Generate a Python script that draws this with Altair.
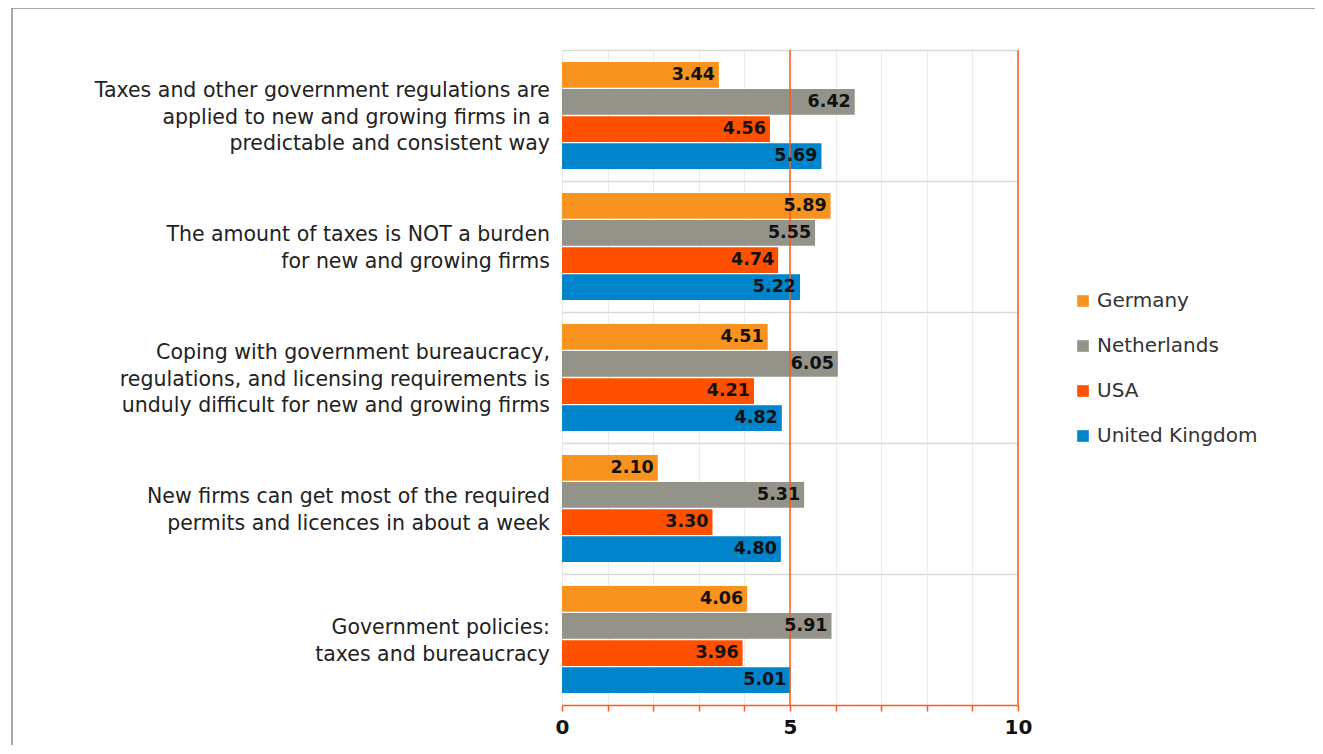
import altair as alt
import pandas as pd

categories = [
    "Taxes and other government regulations are|applied to new and growing firms in a|predictable and consistent way",
    "The amount of taxes is NOT a burden|for new and growing firms",
    "Coping with government bureaucracy,|regulations, and licensing requirements is|unduly difficult for new and growing firms",
    "New firms can get most of the required|permits and licences in about a week",
    "Government policies:|taxes and bureaucracy",
]
series = ["Germany", "Netherlands", "USA", "United Kingdom"]
germany = [3.44, 5.89, 4.51, 2.10, 4.06]
netherlands = [6.42, 5.55, 6.05, 5.31, 5.91]
usa = [4.56, 4.74, 4.21, 3.30, 3.96]
uk = [5.69, 5.22, 4.82, 4.80, 5.01]
colors = ["#F7931E", "#939389", "#FF5000", "#0084CB"]
x_ticks = [0, 1, 2, 3, 4, 5, 6, 7, 8, 9, 10]
highlight_lines = [5, 10]

FONT = "DejaVu Sans"
ORANGE = "#FF5A1A"
LINE_H = 26.5

rows = []
for s, vals in zip(series, [germany, netherlands, usa, uk]):
    for c, v in zip(categories, vals):
        rows.append({"category": c, "series": s, "value": v})
df = pd.DataFrame(rows)

# one row per label line, with its vertical shift inside the band
label_rows = []
for c in categories:
    lines = c.split("|")
    n = len(lines)
    for k, line in enumerate(lines):
        label_rows.append({"category": c, "line": line, "shift": (k - (n - 1) / 2) * LINE_H})
ldf = pd.DataFrame(label_rows)

x_enc = alt.X(
    "value:Q",
    scale=alt.Scale(domain=[0, 10], nice=False),
    axis=alt.Axis(
        title=None,
        values=x_ticks,
        labelExpr="(datum.value % 5 == 0) ? datum.label : ''",
        labelFlush=False,
        grid=True,
        gridColor="#EBEBEB",
        domainColor=ORANGE,
        domainWidth=1.5,
        tickColor=ORANGE,
        tickWidth=1.5,
        tickSize=6,
        labelFont=FONT,
        labelFontSize=20,
        labelFontWeight="bold",
        labelColor="#111111",
        labelPadding=6,
    ),
)
y_enc = alt.Y(
    "category:N",
    sort=categories,
    scale=alt.Scale(paddingInner=0, paddingOuter=0),
    axis=alt.Axis(
        title=None,
        bandPosition=0,
        grid=True,
        gridColor="#D9D9D9",
        gridWidth=1.5,
        ticks=False,
        domain=False,
        labels=False,
    ),
)
yoff_enc = alt.YOffset(
    "series:N", sort=series, scale=alt.Scale(paddingOuter=0.44, paddingInner=0.05)
)
color_enc = alt.Color(
    "series:N",
    sort=series,
    scale=alt.Scale(domain=series, range=colors),
    legend=alt.Legend(
        title=None,
        orient="none",
        legendX=511,
        legendY=241,
        symbolType="square",
        symbolSize=135,
        symbolStrokeWidth=0,
        labelFont=FONT,
        labelFontSize=20,
        labelColor="#333333",
        rowPadding=25,
        labelOffset=4,
        labelLimit=300,
    ),
)

bars = alt.Chart(df).mark_bar().encode(
    x=x_enc, y=y_enc, yOffset=yoff_enc, color=color_enc
)
values = alt.Chart(df).mark_text(
    align="right", baseline="middle", dx=-4, font=FONT, fontSize=17.5,
    fontWeight="bold", color="#111111",
).encode(
    x="value:Q",
    y=alt.Y("category:N", sort=categories),
    yOffset=alt.YOffset("series:N", sort=series),
    text=alt.Text("value:Q", format=".2f"),
)
rules = alt.Chart(pd.DataFrame({"v": highlight_lines})).mark_rule(
    color=ORANGE, strokeWidth=1.5
).encode(x="v:Q")

label_layers = []
for sh in sorted(ldf["shift"].unique()):
    label_layers.append(
        alt.Chart(ldf)
        .transform_filter(alt.datum.shift == float(sh))
        .mark_text(align="right", baseline="middle", dy=float(sh) + 2, font=FONT,
                   fontSize=20.5, color="#222222")
        .encode(
            x=alt.value(-12),
            y=alt.Y("category:N", sort=categories),
            text="line:N",
        )
    )

frame = alt.Chart(pd.DataFrame({"a": [0]})).mark_rect(
    fill=None, stroke="#8C8C8C", strokeWidth=1.5
).encode(
    x=alt.value(-550), x2=alt.value(800), y=alt.value(-42), y2=alt.value(760)
)

chart = (
    alt.layer(frame, bars, rules, values, *label_layers)
    .properties(
        width=456,
        height=655,
        autosize=alt.AutoSizeParams(type="none"),
        padding={"left": 554, "top": 42, "right": 297, "bottom": 40},
    )
    .configure_view(stroke=None)
    .configure(background="white")
)

chart.save("out.html", embed_options={"renderer": "svg", "actions": False})
